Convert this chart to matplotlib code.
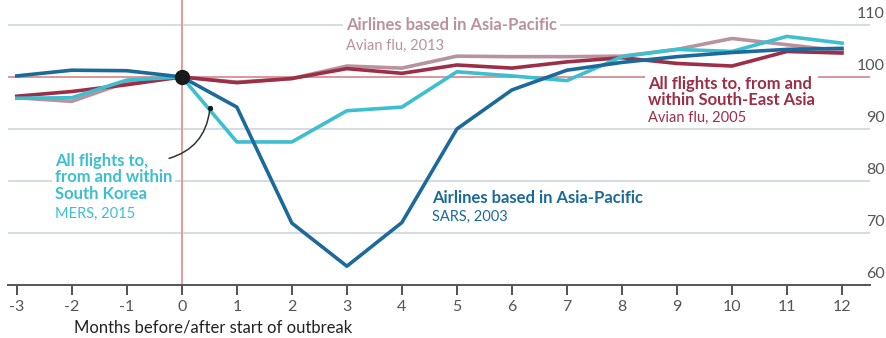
import matplotlib.pyplot as plt
import numpy as np

# Air traffic index (start of outbreak = 100) by month relative to outbreak
months = [-3, -2, -1, 0, 1, 2, 3, 4, 5, 6, 7, 8, 9, 10, 11, 12]

sars_2003 = [100.2, 101.3, 101.2, 100, 94.2, 71.9, 63.6, 72.0, 90.0, 97.5,
             101.3, 102.8, 103.9, 104.7, 105.3, 105.5]
mers_2015 = [95.9, 96.0, 99.4, 100, 87.5, 87.5, 93.5, 94.2, 101.0, 100.2,
             99.3, 103.9, 105.3, 104.9, 107.8, 106.5]
avian_2005 = [96.3, 97.2, 98.5, 100, 98.9, 99.7, 101.6, 100.7, 102.3, 101.7,
              102.9, 103.7, 102.6, 102.1, 104.9, 104.6]
avian_2013 = [96.0, 95.3, 99.0, 100, 99.0, 99.7, 102.1, 101.7, 104.0, 103.9,
              103.9, 104.0, 105.3, 107.4, 106.2, 105.0]

y_ticks = [60, 70, 80, 90, 100, 110]

c_sars = '#1c6a9b'
c_mers = '#3dbfcf'
c_se = '#9c2f47'
c_avian13 = '#b8929f'
c_grid = '#c9d3db'
c_red = '#e08a90'

plt.rcParams['font.family'] = ['Lato', 'DejaVu Sans']

fig = plt.figure(figsize=(8.86, 3.38), dpi=100)
ax = fig.add_axes([0.009, 0.157, 0.973, 0.843])
ax.set_xlim(-3.16, 12.51)
ax.set_ylim(60, 114.8)

# horizontal gridlines with labels sitting on top of them at the right
for v in y_ticks:
    if v == 60:
        continue
    ax.axhline(v, color=c_grid, lw=1.1, zorder=1)
for v in y_ticks:
    ax.annotate(str(v), xy=(1.017, v), xycoords=('axes fraction', 'data'),
                xytext=(0, 3), textcoords='offset points', ha='right', va='bottom',
                fontsize=11.5, color='#555555', annotation_clip=False)

ax.axhline(100, color=c_red, lw=1.2, zorder=1.5)
ax.axvline(0, color=c_red, lw=1.2, zorder=1.5)

lw = 2.6
ax.plot(months, avian_2013, color=c_avian13, lw=lw, zorder=3)
ax.plot(months, avian_2005, color=c_se, lw=lw, zorder=3.1)
ax.plot(months, mers_2015, color=c_mers, lw=lw, zorder=3.2)
ax.plot(months, sars_2003, color=c_sars, lw=lw, zorder=3.3)
ax.scatter([0], [100], s=100, color='#1a1a1a', zorder=5)

box = dict(facecolor='white', edgecolor='none', pad=2)
title_kw = dict(fontsize=12, fontweight='bold', va='center', ha='left', zorder=2, bbox=box)
sub_kw = dict(fontsize=10.5, va='center', ha='left', zorder=2)

ax.text(2.98, 110, 'Airlines based in Asia-Pacific', color=c_avian13, **title_kw)
ax.text(2.98, 106.0, 'Avian flu, 2013', color=c_avian13, **sub_kw)

ax.text(8.47, 97.2, 'All flights to, from and\nwithin South-East Asia',
        color=c_se, linespacing=1.0, **title_kw)
ax.text(8.47, 92.1, 'Avian flu, 2005', color=c_se, **sub_kw)

ax.text(-2.31, 80.7, 'All flights to,\nfrom and within\nSouth Korea',
        color=c_mers, linespacing=1.05, **title_kw)
ax.text(-2.31, 73.7, 'MERS, 2015', color=c_mers, **sub_kw)

ax.text(4.55, 76.7, 'Airlines based in Asia-Pacific', color=c_sars, **title_kw)
ax.text(4.55, 73.1, 'SARS, 2003', color=c_sars, **sub_kw)

# pointer from the South Korea label to its line
ax.annotate('', xy=(0.51, 94.0), xytext=(-0.28, 84.2),
            arrowprops=dict(arrowstyle='-', color='#333333', lw=1.1,
                            connectionstyle='arc3,rad=0.35'), zorder=4)
ax.scatter([0.51], [94.0], s=8, color='#1a1a1a', zorder=4)

ax.set_xticks(months)
ax.set_xticklabels([str(m) for m in months])
ax.set_yticks([])
ax.tick_params(axis='x', length=7, width=1.3, color='#444444', labelsize=11.5,
               labelcolor='#555555', pad=4)
for s in ['top', 'left', 'right']:
    ax.spines[s].set_visible(False)
ax.spines['bottom'].set_color('#555555')
ax.spines['bottom'].set_linewidth(1.4)

fig.text(0.083, 0.015, 'Months before/after start of outbreak', fontsize=12, color='#222222')

fig.savefig('out.png', dpi=100)
